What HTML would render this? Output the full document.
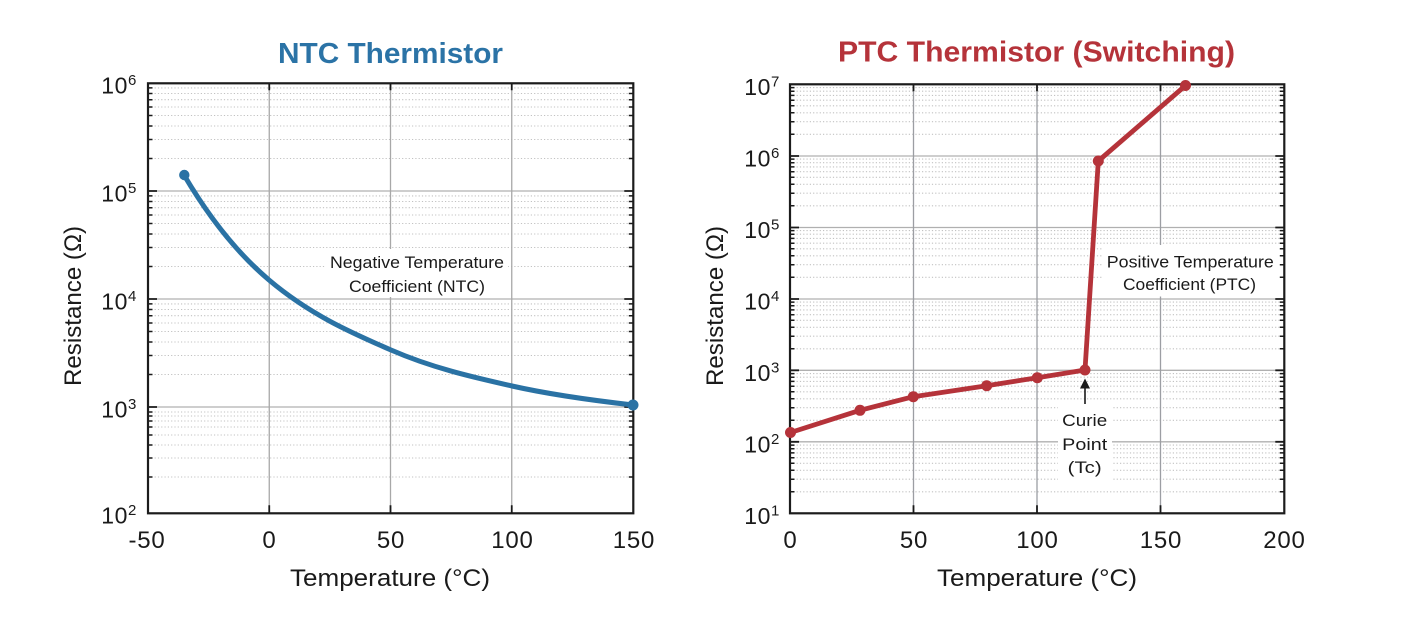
<!DOCTYPE html>
<html>
<head>
<meta charset="utf-8">
<style>
  html, body { margin: 0; padding: 0; background: #ffffff; }
  svg { display: block; }
  text { font-family: "Liberation Sans", "DejaVu Sans", sans-serif; fill: #1a1a1a; }
</style>
</head>
<body>
<svg width="1402" height="628" viewBox="0 0 1402 628" xmlns="http://www.w3.org/2000/svg">
  <defs>
    <path id="lmin" d="M148 477H633M148 458H633M148 445H633M148 435H633M148 427H633M148 421H633M148 416H633M148 412H633
      M148 374.5H633M148 355.5H633M148 342H633M148 331.5H633M148 323H633M148 315.7H633M148 309.5H633M148 303.9H633
      M148 266.5H633M148 247.5H633M148 234H633M148 223.5H633M148 215H633M148 207.7H633M148 201.5H633M148 195.9H633
      M148 158.5H633M148 139.5H633M148 126H633M148 115.5H633M148 107H633M148 99.7H633M148 93.5H633M148 87.9H633"/>
    <path id="lmajh" d="M148 191H633M148 299H633M148 407H633"/>
    <path id="rmin" d="M790 491.8H1284M790 479.2H1284M790 470.3H1284M790 463.3H1284M790 457.7H1284M790 452.9H1284M790 448.7H1284M790 445.1H1284
      M790 420.3H1284M790 407.7H1284M790 398.8H1284M790 391.8H1284M790 386.2H1284M790 381.4H1284M790 377.2H1284M790 373.6H1284
      M790 348.8H1284M790 336.2H1284M790 327.3H1284M790 320.3H1284M790 314.7H1284M790 309.9H1284M790 305.7H1284M790 302.1H1284
      M790 277.3H1284M790 264.7H1284M790 255.8H1284M790 248.8H1284M790 243.2H1284M790 238.4H1284M790 234.2H1284M790 230.6H1284
      M790 205.8H1284M790 193.2H1284M790 184.3H1284M790 177.3H1284M790 171.7H1284M790 166.9H1284M790 162.7H1284M790 159.1H1284
      M790 134.3H1284M790 121.7H1284M790 112.8H1284M790 105.8H1284M790 100.2H1284M790 95.4H1284M790 91.2H1284M790 87.6H1284"/>
    <path id="rmajh" d="M790 156H1284M790 227.5H1284M790 299H1284M790 370.3H1284M790 441.8H1284"/>
    <clipPath id="ltMin"><rect x="148" y="80" width="4.5" height="440"/><rect x="628.8" y="80" width="4.5" height="440"/></clipPath>
    <clipPath id="ltMaj"><rect x="148" y="80" width="9" height="440"/><rect x="624.3" y="80" width="9" height="440"/></clipPath>
    <clipPath id="rtMin"><rect x="790" y="80" width="4.5" height="440"/><rect x="1279.8" y="80" width="4.5" height="440"/></clipPath>
    <clipPath id="rtMaj"><rect x="790" y="80" width="9" height="440"/><rect x="1275.3" y="80" width="9" height="440"/></clipPath>
  </defs>

  <!-- ================= LEFT: NTC ================= -->
  <text x="390.5" y="63" text-anchor="middle" font-size="29" font-weight="bold" style="fill:#2b73a6" textLength="225" lengthAdjust="spacingAndGlyphs">NTC Thermistor</text>

  <use href="#lmin" stroke="#c2c2c2" stroke-width="1.1" stroke-dasharray="1.2 2.1" fill="none"/>
  <use href="#lmajh" stroke="#b0b0b0" stroke-width="1.3" fill="none"/>
  <path d="M269.25 83.3V513.3M390.5 83.3V513.3M511.75 83.3V513.3" stroke="#a8a8a8" stroke-width="1.3" fill="none"/>

  <rect x="326" y="249" width="182" height="48" fill="#ffffff"/>
  <text x="417" y="268" text-anchor="middle" font-size="16.5" textLength="174" lengthAdjust="spacingAndGlyphs">Negative Temperature</text>
  <text x="417" y="292" text-anchor="middle" font-size="16.5" textLength="136" lengthAdjust="spacingAndGlyphs">Coefficient (NTC)</text>

  <use href="#lmin" stroke="#1a1a1a" stroke-width="1.5" fill="none" clip-path="url(#ltMin)"/>
  <use href="#lmajh" stroke="#1a1a1a" stroke-width="1.8" fill="none" clip-path="url(#ltMaj)"/>
  <path d="M269.25 83.3v7M390.5 83.3v7M511.75 83.3v7M269.25 513.3v-8M390.5 513.3v-8M511.75 513.3v-8" stroke="#1a1a1a" stroke-width="1.8" fill="none"/>

  <rect x="148" y="83.3" width="485.3" height="430" fill="none" stroke="#1c1c1c" stroke-width="2.2"/>

  <!-- NTC curve (smooth) -->
  <path d="M184 175 C212.3 222.9 240.7 256.1 269 280 C309.7 314.4 350.3 332.3 391 350 C431.3 367.6 471.7 376.9 512 386 C552.3 395.1 592.7 400.4 633 405"
        stroke="#2a72a4" stroke-width="5" fill="none" stroke-linecap="round"/>
  <circle cx="184.3" cy="175" r="5.2" fill="#2a72a4"/>
  <circle cx="633" cy="405" r="5.5" fill="#2a72a4"/>

  <g font-size="23" letter-spacing="0.6">
    <text x="137" y="93.5" text-anchor="end">10<tspan dy="-8.5" font-size="15">6</tspan></text>
    <text x="137" y="201.5" text-anchor="end">10<tspan dy="-8.5" font-size="15">5</tspan></text>
    <text x="137" y="309.5" text-anchor="end">10<tspan dy="-8.5" font-size="15">4</tspan></text>
    <text x="137" y="417.5" text-anchor="end">10<tspan dy="-8.5" font-size="15">3</tspan></text>
    <text x="137" y="523.5" text-anchor="end">10<tspan dy="-8.5" font-size="15">2</tspan></text>
  </g>
  <g font-size="24" text-anchor="middle" letter-spacing="0.8">
    <text x="147" y="548">-50</text>
    <text x="269.5" y="548">0</text>
    <text x="391" y="548">50</text>
    <text x="512.5" y="548">100</text>
    <text x="634" y="548">150</text>
  </g>
  <text x="390" y="586" text-anchor="middle" font-size="24" textLength="200" lengthAdjust="spacingAndGlyphs">Temperature (°C)</text>
  <text transform="translate(81,306) rotate(-90)" text-anchor="middle" font-size="24" textLength="160" lengthAdjust="spacingAndGlyphs">Resistance (Ω)</text>

  <!-- ================= RIGHT: PTC ================= -->
  <text x="1036.5" y="61.5" text-anchor="middle" font-size="29" font-weight="bold" style="fill:#b5333a" textLength="397" lengthAdjust="spacingAndGlyphs">PTC Thermistor (Switching)</text>

  <use href="#rmin" stroke="#c2c2c2" stroke-width="1.1" stroke-dasharray="1.2 2.1" fill="none"/>
  <use href="#rmajh" stroke="#b0b0b0" stroke-width="1.3" fill="none"/>
  <path d="M913.5 84.3V513.3M1037 84.3V513.3M1160.5 84.3V513.3" stroke="#9c9ea3" stroke-width="1.3" fill="none"/>

  <rect x="1102.5" y="245" width="178" height="51.5" fill="#ffffff"/>
  <text x="1190.3" y="267.3" text-anchor="middle" font-size="16.5" textLength="167" lengthAdjust="spacingAndGlyphs">Positive Temperature</text>
  <text x="1189.5" y="290" text-anchor="middle" font-size="16.5" textLength="133" lengthAdjust="spacingAndGlyphs">Coefficient (PTC)</text>

  <rect x="1058" y="407" width="54" height="74" fill="#ffffff"/>
  <text x="1084.7" y="426" text-anchor="middle" font-size="16.5" textLength="45" lengthAdjust="spacingAndGlyphs">Curie</text>
  <text x="1084.7" y="450" text-anchor="middle" font-size="16.5" textLength="45" lengthAdjust="spacingAndGlyphs">Point</text>
  <text x="1084.7" y="473" text-anchor="middle" font-size="16.5" textLength="34" lengthAdjust="spacingAndGlyphs">(Tc)</text>
  <path d="M1085 404V386" stroke="#1a1a1a" stroke-width="1.6" fill="none"/>
  <path d="M1085 378.5L1080 388.5L1090 388.5Z" fill="#1a1a1a"/>

  <use href="#rmin" stroke="#1a1a1a" stroke-width="1.5" fill="none" clip-path="url(#rtMin)"/>
  <use href="#rmajh" stroke="#1a1a1a" stroke-width="1.8" fill="none" clip-path="url(#rtMaj)"/>
  <path d="M913.5 84.3v7M1037 84.3v7M1160.5 84.3v7M913.5 513.3v-8M1037 513.3v-8M1160.5 513.3v-8" stroke="#1a1a1a" stroke-width="1.8" fill="none"/>

  <rect x="790" y="84.3" width="494.3" height="429" fill="none" stroke="#1c1c1c" stroke-width="2.2"/>

  <path d="M790.5 432.5L860 410.3L913.3 396.7L986.7 385.7L1037.3 377.7L1085 370L1098.3 161L1185.5 85.5"
        stroke="#b5333a" stroke-width="4.8" fill="none" stroke-linejoin="round" stroke-linecap="round"/>
  <g fill="#b5333a">
    <circle cx="790.5" cy="432.5" r="5.5"/>
    <circle cx="860" cy="410.3" r="5.5"/>
    <circle cx="913.3" cy="396.7" r="5.5"/>
    <circle cx="986.7" cy="385.7" r="5.5"/>
    <circle cx="1037.3" cy="377.7" r="5.5"/>
    <circle cx="1085" cy="370" r="5.5"/>
    <circle cx="1098.3" cy="161" r="5.5"/>
    <circle cx="1185.5" cy="85.5" r="5.5"/>
  </g>

  <g font-size="23" letter-spacing="0.6">
    <text x="780" y="95" text-anchor="end">10<tspan dy="-8.5" font-size="15">7</tspan></text>
    <text x="780" y="166.5" text-anchor="end">10<tspan dy="-8.5" font-size="15">6</tspan></text>
    <text x="780" y="238" text-anchor="end">10<tspan dy="-8.5" font-size="15">5</tspan></text>
    <text x="780" y="309.5" text-anchor="end">10<tspan dy="-8.5" font-size="15">4</tspan></text>
    <text x="780" y="381" text-anchor="end">10<tspan dy="-8.5" font-size="15">3</tspan></text>
    <text x="780" y="452.5" text-anchor="end">10<tspan dy="-8.5" font-size="15">2</tspan></text>
    <text x="780" y="524" text-anchor="end">10<tspan dy="-8.5" font-size="15">1</tspan></text>
  </g>
  <g font-size="24" text-anchor="middle" letter-spacing="0.8">
    <text x="790.5" y="548">0</text>
    <text x="914" y="548">50</text>
    <text x="1037.5" y="548">100</text>
    <text x="1161" y="548">150</text>
    <text x="1284.5" y="548">200</text>
  </g>
  <text x="1037" y="586" text-anchor="middle" font-size="24" textLength="200" lengthAdjust="spacingAndGlyphs">Temperature (°C)</text>
  <text transform="translate(723,306) rotate(-90)" text-anchor="middle" font-size="24" textLength="160" lengthAdjust="spacingAndGlyphs">Resistance (Ω)</text>
</svg>
</body>
</html>
